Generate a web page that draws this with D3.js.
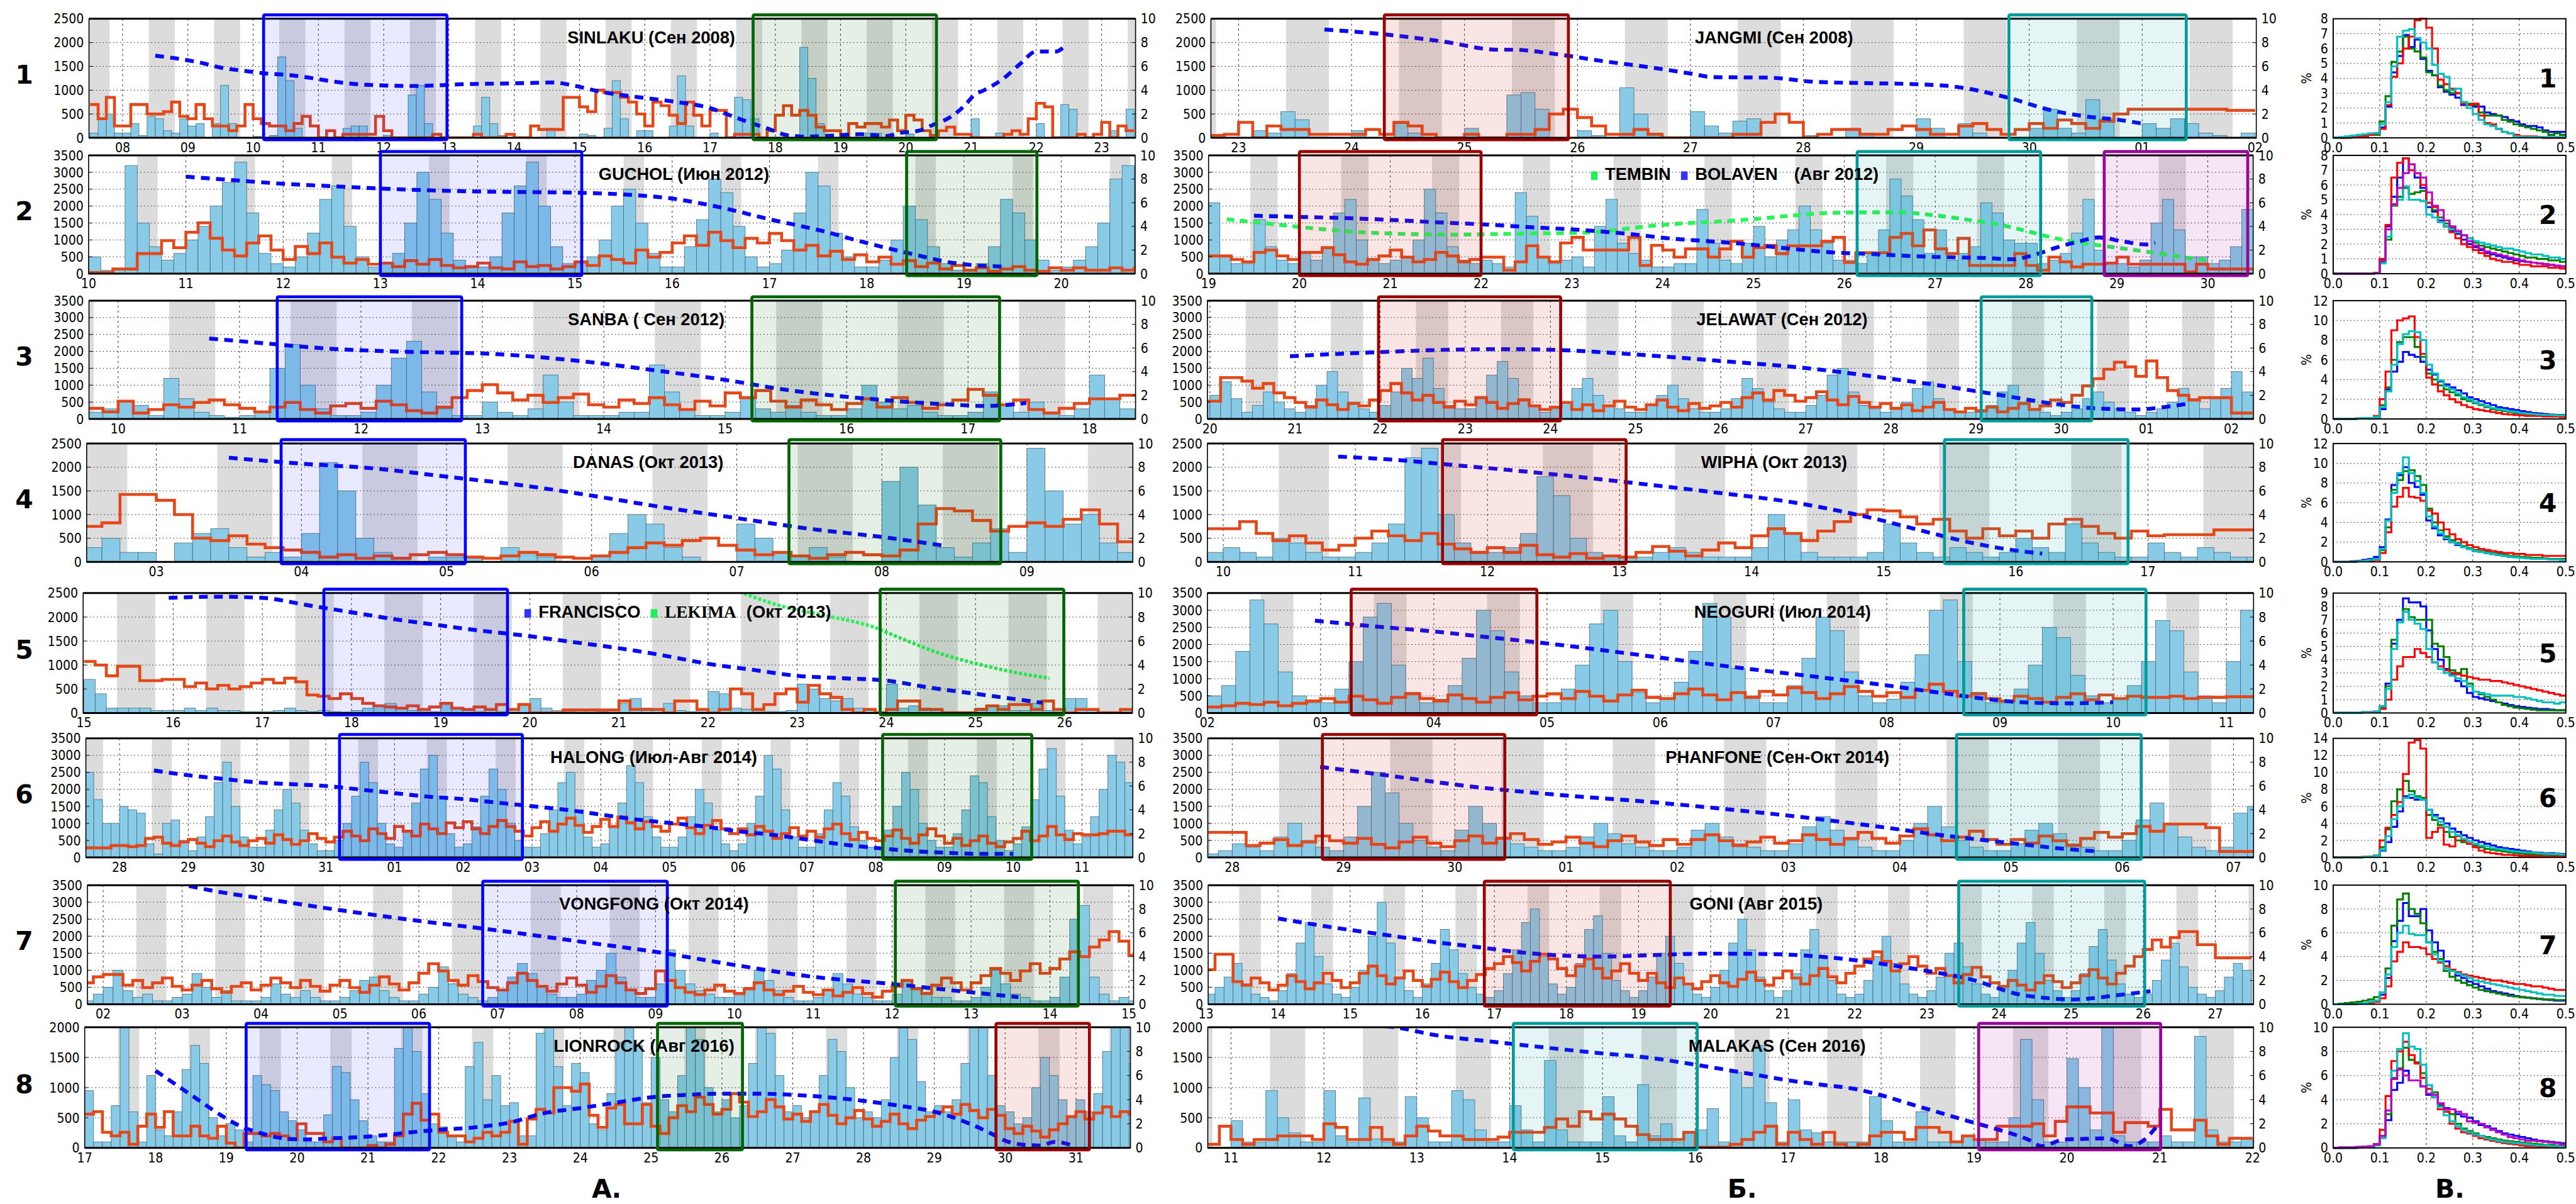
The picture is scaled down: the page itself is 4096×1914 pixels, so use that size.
<!DOCTYPE html>
<html>
<head>
<meta charset="utf-8">
<script src="https://cdn.jsdelivr.net/npm/d3@7"></script>
<style>
  body { margin: 0; background: #fff; }
  text { font-family: 'DejaVu Sans Condensed', 'DejaVu Sans', sans-serif; }
</style>
</head>
<body>
<svg id="fig" width="4096" height="1914"></svg>
<script>
// ---------- tick labels (one per day) ----------
const a1Ticks = ['08','09','10','11','12','13','14','15','16','17','18','19','20','21','22','23'];
const a2Ticks = ['10','11','12','13','14','15','16','17','18','19','20'];
const a3Ticks = ['10','11','12','13','14','15','16','17','18'];
const a4Ticks = ['03','04','05','06','07','08','09'];
const a5Ticks = ['15','16','17','18','19','20','21','22','23','24','25','26'];
const a6Ticks = ['28','29','30','31','01','02','03','04','05','06','07','08','09','10','11'];
const a7Ticks = ['02','03','04','05','06','07','08','09','10','11','12','13','14','15'];
const a8Ticks = ['17','18','19','20','21','22','23','24','25','26','27','28','29','30','31'];
const b1Ticks = ['23','24','25','26','27','28','29','30','01','02'];
const b2Ticks = ['19','20','21','22','23','24','25','26','27','28','29','30'];
const b3Ticks = ['20','21','22','23','24','25','26','27','28','29','30','01','02'];
const b4Ticks = ['10','11','12','13','14','15','16','17'];
const b5Ticks = ['02','03','04','05','06','07','08','09','10','11'];
const b6Ticks = ['28','29','30','01','02','03','04','05','06','07'];
const b7Ticks = ['13','14','15','16','17','18','19','20','21','22','23','24','25','26','27'];
const b8Ticks = ['11','12','13','14','15','16','17','18','19','20','21','22'];

// ---------- 3-hourly bar counts (x100, left axis) ----------
const a1Bars = [1,4,5,1, 1,3,0.5,4.5,4,1.5,1,4, 2.5,3,0,3,11,3,0,0, 0.3,0,0.5,17,12,2,0,0, 0,0,0,2,2.5,2.5,0,0,
  0.5,0,0.2,9,11,3,0,0, 0,0,0,2.5,8.5,3,0.5,0, 0,0,0,0,2,0,0,0, 0.8,0.5,0,2,12,4,0,1.5, 1.5,0,0,2.5,13,2.5,0,0,
  1,0,0,8.5,8,4,0,0, 0,0,0,19,12.5,3,0,0, 0.5,0,0,1,1,0,0,0, 0.8,0,0,0.5,0,0,0,0, 4,0,0,1,0,0,0,0, 3,0,0,7,6,0,0,0, 0,1.5,0,6];
const a2Bars = [5,1,1.5,32,15,8,4,6, 10,14,20,27,33,18,6,3, 2,5,12,22,26,14,5,2, 3,6,15,30,22,12,4,2, 2,5,18,26,33,20,8,3,
  3,5,10,20,25,15,6,2, 2,8,16,28,24,14,5,2, 3,7,18,30,26,12,5,2, 2,4,10,20,16,8,3,1, 1,3,8,22,18,10,4,1, 2,4,8,15,28,32,20];
const a3Bars = [2,3, 5,4,1,12,6,2,1,0.5, 1,2,15,22,10,3,1,1, 2,10,18,23,8,3,1,1, 5,2,1,3,13,5,1,1, 1,2,2,16,8,3,1,1,
  2,6,3,2,4,2,1,1, 3,10,5,3,4,2,1,1, 2,8,4,2,5,2,1,3, 13,6,3,2];
const a4Bars = [3,5,2,2, 0,4,6,7,3,1,2,1, 6,21,15,5,2,1,0,1, 1,1,0,3,2,1,0,0, 1,6,10,8,3,1,0,0, 8,5,2,1,3,1,0,0,
  17,20,12,3,1,4,7,2, 24,15,8,10,4,2];
const a5Bars = [7,4,1,1,1,1,0.5,0.5, 0.5,1,0.5,1,0.5,0.5,0.3,0.3, 0.3,0.5,1,0.5,0.3,0.5,0.3,0.2, 0.5,1,1.5,2,1,0.5,0.3,0.3,
  2,1,0.5,0.3,0.5,0.3,0.3,2, 3,1,0.5,0.3,0.5,0.5,0.3,0.5, 2,3,1,0.5,2,0.5,0.3,0.3, 4.5,4,1,0.8,0.3,0.3,0.3,0.5,
  6,5,3,2.5,3,1,0.5,0.3, 6,1,1.5,1,0.5,0.3,0.3,0.3, 1,1.5,1.5,0.5,0.5,2,0.5,0.3, 3,3,0.5,0.3,0.3,0.3,0.5];
const a6Bars = [25,17,10,10, 15,14,13,4,1,10,11,5, 2,6,12,22,28,15,6,3, 3,8,14,20,16,8,4,2, 2,5,10,18,28,22,10,4,
  3,8,16,26,30,18,7,3, 4,9,18,26,20,10,5,3, 3,7,14,22,25,14,6,3, 4,9,16,27,22,12,6,3, 3,6,12,20,16,8,4,2,
  4,10,18,30,26,14,6,3, 3,7,14,22,18,9,5,3, 3,8,15,25,20,10,5,3, 3,7,14,24,22,12,5,2, 4,9,17,26,32,18,8,4, 6,12,20,30,28,22,24];
const a7Bars = [1,3, 5,10,4,2,3,1,1,2, 3,9,5,2,4,1,1,1, 2,6,3,2,4,2,1,1, 2,4,7,8,4,2,1,1, 3,5,11,6,3,2,1,2,
  4,8,12,9,5,3,2,2, 3,7,10,15,8,4,2,2, 6,16,10,6,4,3,2,2, 3,5,10,7,4,2,1,1, 2,4,9,6,3,2,1,1, 3,7,5,3,2,2,1,1,
  2,5,10,6,3,2,1,1, 2,8,25,29,8,3,1,2, 1];
const a8Bars = [9.5,1,1,7,22,6,1,12, 3,2,6,13,17,14,5,2, 4,3,1,12,10.5,9.5,6,4.5, 3,1,1,5.5,13.5,12.5,8,4.5, 2,1,1,16.5,21,16,9,4,
  3.5,2,1,13.5,17.5,8,12,7, 7.5,2,2,19,20,13.5,7,14, 12.5,4,3,9,17.5,20,17,7.5, 15,8,6,12,20,18,10,6, 8,5,7,14,20,19,12,6,
  7,5,6,12,18,16,10,5, 6,5,8,15,20,18,11,6, 7,6,8,14,20,20,12,7, 6,4,5,10,15,12,8,5, 8,6,9,16,20,20,14];
const b1Bars = [0,0, 0,1.5,1,5.5,3.8,0,0,0, 1.5,0,0,3,1,0,0,0, 2,0,0,9,9.5,6,0,0, 1.5,0.5,0,10.5,5,1,0,0, 5.5,2.5,1,3.5,4,0,0,0,
  0.5,0,0,2,1,0,0,0, 4,2,0,3,1,0,0,0, 2,6,2,1,8,4,0,0, 3,2,4,3,1,0.5,0,1];
const b2Bars = [21,5,3,3,16,8,4,3, 6,4,8,18,22,10,4,3, 4,5,10,25,18,8,4,3, 4,3,2,24,17,5,3,4, 5,2,14,22,9,6,4,2,
  2,3,3,19,9,4,3,9, 14,5,10,13,20,13,9,4, 4,3,6,13,28,23,16,6, 13,4,6,8,21,18,10,9, 9,3,4,6,12,22,7,3, 3,2,4,15,22,13,5,5, 3,4,8,19];
const b3Bars = [5, 7,11,6,2,4,8,5,3, 2,4,10,14,8,5,3,2, 4,8,15,12,18,9,4,3, 3,6,13,17,12,6,4,2, 3,5,9,12,7,4,3,2, 2,4,7,10,6,3,2,2,
  3,6,12,9,5,3,2,2, 4,7,13,15,8,4,3,2, 3,5,9,11,6,3,2,2, 2,4,8,10,5,3,2,1, 2,3,6,8,5,3,2,1, 2,3,5,9,6,3,6,9, 14,8];
const b4Bars = [2, 3,2,1,5,4,2,1,1, 2,4,8,22,24,10,4,2, 2,3,6,18,14,5,2,1, 1,1,2,3,2,1,1,1, 3,10,6,2,1,1,1,2, 8,4,2,1,3,2,1,2,
  5,3,2,8,4,2,1,1, 4,2,1,3,2,1,1];
const b5Bars = [5,8,18,33,26,12,5,3, 3,7,15,28,32,14,6,3, 4,8,16,30,24,12,5,3, 3,7,14,26,30,15,6,3, 4,9,18,32,28,13,5,3,
  3,8,16,28,24,12,5,3, 4,9,17,30,33,15,6,3, 3,7,14,25,22,11,5,3, 4,8,15,27,24,12,5,3, 15,30];
const b6Bars = [1,2, 4,3,2,6,10,5,3,2, 6,15,25,19,10,5,3,2, 8,15,10,6,4,3,2,2, 3,6,10,7,4,3,2,2, 3,8,10,6,4,3,2,2,
  4,9,12,8,5,3,2,2, 5,10,15,9,5,3,2,2, 4,8,10,7,4,3,2,2, 5,11,16,10,6,3,2,3, 13,15];
const b7Bars = [3,5,8,12,6,3,2,1, 4,9,18,24,14,6,3,2, 5,10,20,30,18,8,4,2, 6,12,22,16,9,5,3,2, 4,9,16,24,28,14,6,3,
  5,12,22,26,15,7,4,2, 4,8,15,20,12,6,3,2, 5,10,18,25,16,8,4,2, 4,9,16,22,14,7,3,2, 3,7,14,20,12,6,3,2, 4,8,15,18,11,6,3,2,
  5,10,18,24,15,7,4,2, 4,9,17,22,13,6,3,2, 3,7,13,18,11,5,3,2, 4,8,12,10];
const b8Bars = [0,0, 4.5,1,1,9.5,5,2.5,1,1, 9.5,2,1,8.3,1.5,1,1,8.5, 5,1,1,9.5,8,3,1,1, 7,3,1,14.5,3,1,1,1, 8.5,2,1,10.5,2,4,1,2.5,
  3,6.5,1,12.5,10,17,7.5,1, 8,3,2.5,1,1,1,1,8.5, 4.5,1,1,6,1,1,1,2, 1.5,1,1,5,18,8,1,1, 14.8,10,3,20,2,1,1,1, 2,1,1,18.5,3,1,1,1.5];

// ---------- 3-hourly red step values (right axis) ----------
const a1Red = [2.8,1.6,3.4,1.0, 1.0,2.8,2.8,2.0,2.0,2.2,3.0,1.8, 1.6,2.8,1.6,1.0,1.0,0.6,1.0,2.8, 1.6,1.2,1.0,1.0,0.6,1.2,1.8,1.0,
  0,0.6,0,0.3,0.3,0.3,0.3,1.8, 0.6,0,0,0,0,0,0.3,0, 0,0,0,0.3,0,0,0,0.3, 0,0,1.0,0.7,0.7,0.7,3.4,3.4, 2.6,2.2,4.0,3.8,3.8,3.4,3.0,2.0,
  1.0,3.0,2.7,1.9,1.2,3.0,1.9,1.0, 2.3,2.3,0,0.3,0.3,0.3,0,0.6, 1.9,2.7,1.9,2.3,1.9,0.9,0.6,0.6, 0,1.2,0.9,1.2,1.2,0.9,1.5,0.6,
  1.9,1.5,0.6,0.2,0.6,0.9,0.3,0.3, 0,0,0,0,0.3,0.6,0.3,1.6, 2.9,2.6,0,0,0,0.3,0,0.3, 1.3,0,1.0,0.6];
const a2Red = [0.1,0.1,0.4,0.4,1.7,1.7,2.8,2.2, 3.5,4.3,3.0,2.0,1.5,2.6,3.2,2.0, 1.2,2.3,1.7,2.6,1.4,0.9,1.2,0.8, 0.9,0.6,1.1,0.8,1.2,0.7,0.5,0.6,
  0.9,0.5,0.4,1.0,0.6,0.7,0.4,0.6, 1.0,0.7,1.5,1.2,0.9,2.0,1.4,1.8, 2.6,3.2,2.4,3.5,2.8,2.2,3.0,2.6, 3.4,2.8,2.0,2.4,1.5,1.9,1.2,1.6,
  1.0,1.4,0.8,1.1,0.6,0.9,0.4,0.7, 0.3,0.5,0.2,0.4,0.6,0.3,0.2,0.5, 0.3,0.5,0.3,0.3,0.5,0.3,0.5];
const a3Red = [0.9,0.6, 1.5,0.5,0.8,1.2,1.0,1.4,1.6,1.2, 0.9,0.6,1.0,1.4,0.8,0.5,1.1,1.3, 0.9,1.5,1.2,0.7,0.5,1.0,1.8,2.4,
  2.9,2.2,1.6,2.0,1.4,1.8,2.1,1.2, 1.0,1.6,1.3,1.8,1.2,0.8,1.5,1.1, 2.2,1.8,2.4,1.5,1.0,1.6,1.2,0.8, 1.3,1.7,1.0,1.8,1.4,0.9,1.2,1.6,
  2.5,2.0,1.2,1.6,0.8,0.5,0.9,1.3, 1.7,1.7,2.0,2.0];
const a4Red = [3.0,3.3,5.7,5.7, 5.2,4.0,2.0,1.8,2.2,1.5,1.2,1.0, 0.8,0.4,0.6,0.3,0.5,0.3,0.6,0.8, 0.6,0.4,0.3,0.5,0.8,0.6,0.4,0.3,
  0.5,0.8,1.2,1.6,1.4,1.8,2.0,1.4, 1.0,0.6,0.8,0.5,0.3,0.6,0.8,0.6, 0.5,1.0,3.2,4.5,4.3,3.5,2.6,3.0, 3.3,3.0,3.6,4.4,3.2,1.7];
const a5Red = [4.3,4.0,3.1,3.9,3.9,2.7,2.7,2.8, 2.8,2.2,2.5,2.0,2.3,2.0,2.2,2.5, 2.8,2.5,2.9,2.6,1.5,1.4,1.2,1.6, 1.2,0.8,0.6,0.5,0.4,0.6,0.3,0.5,
  0.8,0.4,0.3,0.5,0.3,0.7,0.3,0.7, 0,0,0,0.25,0.25,0.25,0.25,0.25, 1.0,0.3,0.3,0.3,0,1.0,1.0,0.3, 0,0.3,2.0,1.6,0.3,0.7,1.6,2.0,
  0.9,2.3,1.6,1.3,0.3,0,0.3,0, 0.3,1.0,1.0,0.3,0.3,0,0,0, 0.3,0.6,0.3,0.7,0.7,0.3,1.0,0.3, 0,0.3,0.3,0,0,0.3,0.3];
const a6Red = [0.8,0.8,0.8,1.0, 1.0,0.9,1.0,1.6,1.7,1.2,1.0,1.3, 1.5,1.2,0.9,1.4,1.8,1.3,1.0,1.4, 1.6,1.2,1.9,1.5,1.1,1.4,2.0,1.6,
  1.3,1.7,2.2,1.8,1.4,2.4,2.0,1.6, 2.6,2.2,1.8,2.8,2.4,2.0,2.9,2.5, 3.0,2.4,2.0,2.6,3.1,2.6,2.2,1.8, 2.5,3.0,2.2,2.8,3.3,2.7,2.1,2.6,
  3.2,2.6,3.4,2.9,2.4,3.0,2.6,2.2, 2.8,3.3,2.5,2.0,2.7,3.1,2.4,2.0, 2.4,1.9,2.6,2.2,1.6,2.0,2.5,1.8, 2.2,1.7,2.4,2.8,2.0,1.5,2.1,1.6,
  1.4,1.8,2.3,1.6,1.2,1.9,2.4,1.8, 1.2,1.6,1.0,1.4,1.8,1.2,0.9,1.3, 1.6,2.2,1.4,1.8,2.6,1.9,1.5,2.0, 1.9,1.9,2.0,2.2,2.2,1.9,1.9];
const a7Red = [1.8,2.3, 2.5,2.5,1.6,2.0,1.4,1.8,2.2,1.5, 1.2,1.6,2.0,1.3,1.0,1.5,1.8,1.2, 1.6,2.2,1.8,1.4,2.0,1.5,1.1,1.6,
  2.0,1.4,1.0,1.6,2.3,1.7,1.2,1.8, 2.6,3.4,2.8,2.0,1.6,2.4,1.9,1.4, 1.2,1.8,2.6,2.0,1.5,1.1,1.7,2.2, 1.6,1.0,1.5,2.4,1.8,1.2,0.9,1.3,
  2.8,2.0,1.4,1.0,0.8,1.2,1.6,1.1, 0.9,1.3,1.8,1.2,0.8,1.1,1.5,1.0, 0.8,1.2,0.7,1.0,1.4,0.9,0.6,1.1, 1.5,2.0,1.3,0.9,1.6,2.2,1.8,1.2,
  1.8,2.4,3.0,2.6,2.0,2.8,3.4,2.6, 3.0,3.8,4.4,4.0,4.8,5.4,6.1,5.3, 4.1];
const a8Red = [2.8,3.0,1.3,1.0,1.3,0.3,1.8,2.8, 1.7,3.0,1.0,1.0,1.8,1.0,0.8,1.8, 0.4,0,1.2,1.2,1.0,1.2,1.0,0.7, 2.0,1.2,1.2,0.5,0.8,0,0,0,
  0.2,0,0.3,1.0,2.8,3.7,2.3,2.8, 1.3,1.0,1.0,0.5,0.8,1.3,1.0,1.3, 2.2,0.3,2.4,3.2,2.9,5.0,5.0,4.7, 5.3,2.7,1.7,3.3,3.6,2.0,2.0,3.6,
  1.8,1.2,2.5,3.5,3.0,4.2,3.6,2.8, 3.2,4.5,3.8,2.6,3.0,4.0,3.4,2.4, 2.8,2.2,3.0,3.6,2.7,2.0,2.5,3.1, 2.4,1.8,2.2,2.8,2.0,1.6,2.3,2.6,
  3.0,3.4,2.8,3.6,3.1,2.5,3.2,2.7, 1.6,1.2,1.8,1.4,0.9,1.5,2.0,2.6, 3.0,2.4,2.9,3.4,2.6,3.0,2.8];
const b1Red = [0.2,0.3, 1.3,0,1.0,0.7,0.7,0.3,0.3,0.3, 0.3,0.7,0.3,1.3,1.0,0.3,0,0, 0.3,0,0,0.3,0.3,0.7,2.0,2.4, 1.7,1.0,0.3,0.3,0.7,0.3,0,0,
  0,0,0,0.3,0.3,1.3,2.0,1.3, 0,0.3,0.7,0.7,0.3,0.3,0.7,1.0, 0.7,0.3,0.3,1.0,1.2,0.7,0.3,0.7, 1.2,0.8,1.5,1.2,0.8,1.4,2.0,2.4,
  2.4,2.4,2.4,2.4,2.4,2.4,2.3,2.3];
const b2Red = [1.5,1.5,1.2,1.0,1.8,2.0,1.5,1.2, 1.8,1.8,2.2,1.6,1.0,0.8,1.2,1.5, 2.0,1.4,1.0,1.2,1.8,1.5,1.0,1.2,
  1.4,1.4,0.3,1.0,2.36,1.4,1.0,2.6, 3.07,2.0,2.0,2.0,2.0,3.07,0.7,2.4, 2.0,1.4,2.1,2.1,1.4,2.1,2.74,1.4, 2.2,2.4,1.7,2.36,2.36,2.36,2.74,3.07,
  0.95,1.77,1.77,1.77,3.07,3.4,2.36,3.7, 2.1,1.7,3.0,0.7,0.7,0.7,0.7,1.7, 0.7,0.3,1.4,1.0,0.57,0.8,0.8,0.9, 1.4,0.8,0.8,0.8,0.8,0.8,0.15,0.8,
  0.4,0.4,0.4,0.4];
const b3Red = [1.5, 1.5,3.5,3.5,3.2,2.6,3.0,2.2,1.8, 1.4,1.0,1.6,1.2,0.8,1.3,1.1,1.6, 2.4,3.0,2.2,1.6,2.0,1.4,1.0,1.5, 1.2,1.8,1.4,0.9,1.3,1.6,1.1,0.8,
  1.0,1.4,0.8,1.2,0.7,1.1,1.5,1.0, 0.8,1.2,1.6,1.0,0.7,1.3,0.9,1.1, 1.4,1.0,1.8,2.2,1.6,2.4,2.0,1.5, 1.8,2.3,1.6,1.2,1.9,1.4,1.0,1.3,
  0.9,1.2,0.7,1.0,1.4,0.8,0.6,0.9, 0.7,1.0,0.6,0.9,1.3,0.8,1.1,1.6, 1.4,2.0,2.8,3.4,4.2,4.8,4.4,3.6, 4.9,3.5,2.4,2.0,1.6,1.8,1.8,1.8, 0.5,0.5];
const b4Red = [2.8, 2.8,3.4,2.4,1.8,2.2,1.6,1.0,1.4, 2.0,2.6,2.2,1.8,2.4,1.5,1.1,0.8, 1.2,0.8,1.4,0.6,0.4,0.7,0.3,0.5, 0.4,0.8,1.3,0.9,0.5,1.0,1.6,1.2,
  2.2,2.8,2.4,1.8,2.6,3.4,4.0,4.4, 4.3,3.8,3.2,3.6,2.6,2.0,2.8,2.2, 2.6,2.0,3.2,3.6,3.0,2.4,2.0,2.6, 2.2,2.3,2.3,2.3,2.7,2.7,2.7];
const b5Red = [0.5,0.6,0.8,0.7,0.9,0.6,0.8,1.0, 1.2,0.9,1.4,1.1,0.8,1.3,1.6,1.2, 1.0,1.5,1.2,0.9,1.3,1.7,1.1,1.4, 1.6,1.2,1.8,1.4,1.0,1.5,1.9,1.3,
  1.2,1.6,2.0,1.5,1.1,1.7,1.3,1.8, 1.5,2.1,1.7,1.2,1.6,2.2,1.8,1.4, 1.7,1.3,1.9,2.4,1.8,1.4,1.6,1.2, 1.0,1.4,1.2,0.9,1.3,1.6,1.1,1.5,
  1.2,1.4,1.3,1.3,1.4,1.2,1.3,1.3, 1.35,1.35];
const b6Red = [2.1,2.1, 2.1,1.0,1.2,1.5,1.0,1.3,1.8,1.4, 1.2,1.6,1.1,0.8,1.3,1.7,1.2,0.9, 1.4,1.8,1.2,1.6,2.0,1.5,1.1,1.3, 1.7,1.2,0.9,1.4,1.8,1.3,1.0,1.5,
  1.1,1.5,1.9,1.4,1.0,1.3,1.7,1.2, 1.4,1.9,1.5,1.1,1.6,2.1,1.6,1.2, 1.8,2.4,1.9,1.4,1.7,2.2,1.5,1.1, 1.5,1.2,1.8,1.4,1.0,1.6,2.1,1.7,
  2.0,2.6,2.2,2.8,2.8,2.8,2.5,0.5, 0.5,0.5];
const b7Red = [2.9,4.2,4.2,1.9,1.6,2.2,1.8,1.2, 1.6,2.4,1.9,1.3,1.8,2.6,2.0,1.4, 1.8,2.6,3.2,2.4,1.7,2.2,2.8,2.0, 1.5,2.1,2.7,1.9,1.4,2.0,2.5,3.0,
  3.4,4.0,3.5,2.8,3.6,4.2,3.8,3.0, 2.4,3.2,3.8,3.0,2.2,2.8,3.4,2.6, 2.0,2.6,1.8,1.4,2.2,1.7,1.3,1.9, 2.4,1.8,1.5,2.1,2.7,2.0,1.6,2.2,
  2.8,2.2,1.7,2.4,3.0,2.3,1.8,2.6, 3.2,3.8,4.4,3.6,2.8,3.4,4.0,3.2, 2.6,3.0,2.4,1.8,2.5,3.1,2.3,1.8, 1.5,2.0,1.6,1.2,1.8,2.4,1.9,1.4,
  1.8,2.4,2.9,2.2,1.7,2.6,3.2,4.0, 4.6,5.4,4.8,5.6,6.1,6.1,5.0,5.0, 3.9,3.9,3.9,3.9];
const b8Red = [0.3,1.8, 0.7,0.3,0.7,0.7,1.0,1.0,1.0,0.7, 2.0,1.7,0.7,0.7,1.7,0.7,0.3,1.0, 1.8,1.4,1.0,1.0,0.7,0.7,0.7,0.9,
  1.3,1.3,1.3,1.7,2.4,1.8,3.0,2.4, 2.8,2.4,1.8,1.1,0.7,0.7,0.7,1.3, 0.05,0.05,0.05,0.3,0.7,1.3,1.8,0.3, 1.3,0.7,0.3,1.3,0.3,0,0.3,1.0,
  1.3,1.3,0.7,1.7,1.7,1.3,0.5,1.0, 0.7,0.7,1.8,1.8,1.8,2.0,1.0,2.2, 3.4,3.4,2.9,2.9,1.3,2.1,2.1,1.8, 3.2,1.5,1.5,2.3,1.0,0.3,0.8,0.8];

// ---------- storm tracks [day index, right-axis value] ----------
const a1Track = [[0.5,6.9],[0.9,6.6],[1.2,6.3],[1.5,5.9],[1.9,5.6],[2.2,5.4],[2.5,5.3],[2.8,5.1],[3.2,4.75],[3.6,4.5],[4.0,4.4],[4.4,4.35],
  [4.8,4.4],[5.2,4.5],[5.7,4.55],[6.2,4.6],[6.6,4.65],[6.9,4.4],[7.3,3.9],[7.7,3.55],[8.0,3.35],[8.5,3.0],[9.0,2.5],[9.3,1.9],[9.6,1.3],
  [9.9,0.75],[10.2,0.2],[10.5,0.1],[10.9,0.2],[11.3,0.3],[11.7,0.15],[11.9,0.4],[12.2,0.6],[12.4,1.05],[12.7,1.8],[12.9,2.7],[13.05,3.6],
  [13.2,4.0],[13.5,5.0],[13.75,6.2],[14.0,7.25],[14.3,7.25],[14.45,7.8]];
const a2Track = [[1.0,8.2],[1.5,7.9],[2.0,7.6],[2.5,7.4],[3.0,7.2],[3.5,7.05],[4.0,6.95],[4.5,6.9],[5.0,6.85],[5.5,6.7],[6.0,6.35],
  [6.5,5.6],[7.0,4.6],[7.5,3.7],[8.0,2.6],[8.5,1.6],[8.9,0.9],[9.4,0.6]];
const a3Track = [[0.75,6.8],[1.2,6.4],[1.72,5.95],[2.3,5.7],[3.08,5.5],[3.8,4.9],[4.43,4.1],[5.0,3.3],[5.51,2.45],[6.3,1.6],[6.8,1.25],[7.14,1.1],[7.48,1.35]];
const a4Track = [[0.5,8.8],[1.0,8.3],[1.5,7.9],[2.0,7.2],[2.5,6.5],[3.0,5.6],[3.5,4.6],[4.0,3.7],[4.5,2.8],[5.0,2.1],[5.44,1.35]];
const a5Track = [[0.95,9.6],[1.5,9.7],[2.0,9.6],[2.5,9.0],[3.0,8.4],[3.5,7.8],[4.0,7.3],[4.3,7.0],[5.0,6.4],[5.5,5.9],[6.0,5.4],[6.5,4.8],
  [7.0,4.1],[7.5,3.6],[8.0,3.1],[8.5,2.9],[9.0,2.7],[9.5,2.1],[10.0,1.6],[10.4,1.2],[10.75,0.85]];
const a5Track2 = [[7.3,10.3],[7.43,9.9],[7.83,8.9],[8.33,8.1],[8.84,7.2],[9.14,6.3],[9.59,5.0],[10.1,3.95],[10.5,3.3],[10.83,2.9]];
const a6Track = [[0.5,7.3],[1.0,6.9],[1.5,6.6],[2.0,6.3],[2.5,6.15],[3.0,6.0],[3.5,5.7],[4.0,5.4],[4.5,5.1],[5.0,4.9],[5.5,4.6],[6.0,4.3],
  [6.5,4.0],[7.0,3.6],[7.5,3.2],[8.0,2.9],[8.5,2.6],[9.0,2.2],[9.5,1.9],[10.0,1.5],[10.5,1.1],[11.0,0.8],[11.5,0.55],[12.0,0.4],[12.5,0.3],[13.0,0.3]];
const a7Track = [[0.9,10.2],[1.5,9.4],[2.0,8.9],[3.0,7.9],[4.0,7.0],[5.0,6.2],[6.0,5.3],[7.0,4.4],[8.0,3.3],[9.0,2.3],[10.0,1.7],[11.0,1.0],[11.6,0.6]];
const a8Track = [[1.0,6.4],[1.3,5.2],[1.6,4.0],[1.9,2.8],[2.2,1.8],[2.5,1.2],[2.8,0.8],[3.1,0.7],[3.5,0.8],[3.9,0.9],[4.3,1.1],[4.7,1.35],
  [5.0,1.5],[5.5,1.7],[6.0,2.1],[6.5,2.9],[7.0,3.3],[7.5,3.75],[8.0,4.2],[8.5,4.4],[9.0,4.5],[9.5,4.5],[10.0,4.4],[10.5,4.2],[11.0,3.9],
  [11.5,3.5],[12.0,3.0],[12.5,2.0],[12.8,1.2],[13.0,0.6],[13.2,0.3],[13.5,0.2],[13.7,0.5],[14.0,0.1]];
const b1Track = [[0.76,9.1],[1.28,8.7],[1.8,8.1],[2.3,7.4],[2.43,7.4],[2.83,7.0],[3.22,6.45],[3.62,5.95],[4.0,5.4],[4.2,5.1],[4.7,5.05],
  [5.1,4.7],[5.5,4.6],[6.0,4.5],[6.34,4.3],[6.8,3.4],[7.2,2.3],[7.5,1.8],[7.8,1.5],[8.0,1.2]];
const b2Track = [[0.5,4.9],[1.0,4.8],[1.5,4.7],[2.0,4.55],[2.5,4.35],[3.07,4.15],[3.54,3.93],[4.06,3.72],[4.59,3.39],[5.11,2.96],[5.52,2.74],
  [5.89,2.52],[6.36,2.15],[6.83,1.82],[7.29,1.66],[7.71,1.5],[8.13,1.39],[8.55,1.33],[8.86,1.22],[9.07,1.55],[9.33,2.2],[9.59,2.74],
  [9.8,3.07],[10.06,2.74],[10.32,2.47],[10.42,2.63]];
const b2Track2 = [[0.2,4.6],[0.7,4.2],[1.2,3.8],[1.7,3.5],[2.2,3.35],[2.7,3.3],[3.07,3.34],[3.54,3.4],[4.06,3.45],[4.38,3.6],[4.74,3.93],
  [5.11,4.2],[5.52,4.37],[5.94,4.58],[6.41,4.9],[6.77,5.12],[7.19,5.18],[7.61,5.18],[7.97,4.96],[8.34,4.58],[8.7,4.15],[9.01,3.6],
  [9.28,3.07],[9.59,2.63],[9.9,2.3],[10.32,1.87],[10.73,1.39],[11.05,1.06]];
const b3Track = [[0.94,5.3],[1.5,5.5],[2.0,5.65],[2.8,5.85],[3.5,5.9],[4.0,5.85],[5.1,5.4],[6.0,4.9],[7.0,4.3],[8.0,3.4],[8.6,2.8],
  [9.3,2.0],[9.9,1.3],[10.4,0.9],[10.9,0.8],[11.2,1.0],[11.5,1.3]];
const b4Track = [[0.87,8.9],[1.2,8.7],[1.83,8.1],[2.5,7.4],[3.08,6.7],[3.7,5.9],[4.33,5.0],[4.95,3.6],[5.3,2.6],[5.67,1.6],[6.04,0.9],[6.2,0.7]];
const b5Track = [[0.95,7.7],[1.5,7.2],[2.0,6.8],[2.4,6.4],[3.0,5.8],[3.85,4.8],[4.5,4.0],[5.3,3.1],[6.0,2.3],[6.46,1.7],[7.18,0.9],[7.6,0.8],[8.0,0.9]];
const b6Track = [[0.79,7.6],[1.3,7.0],[2.2,5.9],[3.0,5.2],[3.7,4.7],[4.5,4.0],[5.2,3.3],[5.8,2.6],[6.35,1.9],[7.1,1.1],[7.5,0.7],[7.8,0.5]];
const b7Track = [[1.0,7.2],[1.6,6.6],[2.63,5.7],[3.2,5.2],[3.77,4.8],[4.3,4.4],[4.9,4.1],[5.5,4.0],[6.06,4.1],[7.0,4.25],[7.9,4.2],
  [8.7,3.9],[9.48,3.3],[10.0,2.8],[10.6,2.1],[11.3,0.8],[11.7,0.5],[12.0,0.4],[12.7,0.8],[13.1,1.1]];
const b8Track = [[1.66,10.1],[1.77,10.0],[2.2,9.35],[2.82,8.8],[3.29,8.4],[3.91,7.9],[4.53,7.45],[5.0,6.9],[5.62,6.1],[6.09,5.5],[6.4,5.2],
  [6.71,4.9],[6.94,4.5],[7.33,3.6],[7.64,2.9],[7.95,2.2],[8.27,1.5],[8.58,0.7],[8.73,0.15],[8.97,0.7],[9.2,0.75],[9.43,0.8],[9.67,0.15],
  [9.82,0.6],[9.98,1.9]];

// ---------- highlighted intervals [from, to, colour key] ----------
const a1Boxes = [[2.16,4.97,'blue'],[9.66,12.47,'green']];
const a2Boxes = [[3.0,5.07,'blue'],[8.41,9.75,'green']];
const a3Boxes = [[1.31,2.83,'blue'],[5.22,7.26,'green']];
const a4Boxes = [[0.86,2.13,'blue'],[4.36,5.82,'green']];
const a5Boxes = [[2.69,4.75,'blue'],[8.93,10.99,'green']];
const a6Boxes = [[3.2,5.86,'blue'],[11.1,13.27,'green']];
const a7Boxes = [[4.81,7.15,'blue'],[10.04,12.36,'green']];
const a8Boxes = [[2.28,4.87,'blue'],[8.09,9.29,'green'],[12.87,14.19,'red']];
const b1Boxes = [[1.29,2.92,'red'],[6.82,8.39,'teal']];
const b2Boxes = [[1.0,3.0,'red'],[7.14,9.16,'teal'],[9.86,11.44,'purple']];
const b3Boxes = [[1.98,4.12,'red'],[9.06,10.36,'teal']];
const b4Boxes = [[1.66,3.05,'red'],[5.46,6.85,'teal']];
const b5Boxes = [[1.27,2.91,'red'],[6.68,8.29,'teal']];
const b6Boxes = [[0.81,2.45,'red'],[6.51,8.17,'teal']];
const b7Boxes = [[3.86,6.44,'red'],[10.44,13.02,'teal']];
const b8Boxes = [[3.04,5.02,'teal'],[8.05,10.01,'purple']];

// ---------- histograms, 0.0125 bins from 0 to 0.5 (%) ----------
const h1Blue = [0,0,0.05,0.1,0.1,0.15,0.2,0.3,0.7,2.1,4.4,5.5,6.9,6.1,6.6,5.3,4.5,4.2,3.4,3.1,2.9,2.7,2.2,2.2,2.1,2.1,1.7,1.6,1.5,1.4,1.2,1.1,0.9,0.8,0.8,0.7,0.5,0.4,0.4,0.4];
const h1Green = [0,0,0.05,0.1,0.1,0.15,0.2,0.2,1.1,2.8,5.1,5.8,6.8,6.0,5.8,5.4,4.4,4.2,3.5,3.2,3.0,3.0,2.4,2.3,2.2,1.7,1.5,1.5,1.5,1.2,1.1,0.9,0.8,0.7,0.6,0.5,0.4,0.2,0.3,0.2];
const h1Red = [0,0,0,0.05,0.1,0.1,0.2,0.3,0.6,2.2,4.1,5.0,6.0,6.8,7.9,8.0,7.4,6.0,3.9,3.6,3.3,3.0,2.3,2.2,2.3,1.5,1.0,0.9,0.6,0.4,0.3,0.2,0.1,0.1,0.1,0.05,0,0,0,0];
const h1Cyan = [0,0.05,0.1,0.15,0.2,0.25,0.3,0.3,0.9,2.4,4.8,6.8,7.2,7.3,6.7,6.4,6.0,4.9,4.3,4.1,3.2,3.3,2.4,2.0,1.6,1.2,0.9,0.8,0.6,0.4,0.3,0.1,0.05,0.05,0.05,0.05,0.05,0.05,0.05,0.05];
const h2Blue = [0,0,0,0,0,0,0,0.05,0.8,3.2,5.2,6.5,7.8,7.0,6.5,5.8,4.5,4.2,3.6,3.2,2.9,2.7,2.3,2.0,1.8,1.6,1.4,1.3,1.2,1.1,1.0,0.9,0.85,0.8,0.75,0.7,0.65,0.6,0.55,0.5];
const h2Green = [0,0,0,0,0,0,0,0.05,0.8,2.3,4.6,5.2,5.8,5.4,5.5,5.6,4.8,4.3,3.8,3.4,3.1,2.8,2.6,2.4,2.1,1.9,1.8,1.7,1.6,1.5,1.4,1.3,1.2,1.1,1.1,1.0,1.0,0.9,0.9,0.8];
const h2Red = [0,0,0,0,0,0,0,0.05,1.0,3.3,6.5,7.5,7.8,7.0,6.8,6.0,4.8,4.5,3.5,3.2,2.8,2.4,2.0,1.8,1.6,1.4,1.2,1.0,0.9,0.8,0.8,0.7,0.6,0.6,0.5,0.5,0.5,0.4,0.4,0.35];
const h2Cyan = [0,0,0,0,0,0,0,0.05,0.7,2.5,4.7,5.0,5.9,5.0,5.0,4.9,4.0,3.8,3.5,3.2,3.0,2.8,2.6,2.4,2.2,2.1,2.0,1.9,1.8,1.7,1.7,1.6,1.5,1.4,1.3,1.3,1.2,1.1,1.1,1.0];
const h2Magenta = [0,0,0,0,0,0,0,0.05,0.9,3.0,4.7,5.8,6.8,7.4,6.8,6.5,5.5,4.6,4.3,3.6,3.2,2.9,2.6,2.2,1.9,1.7,1.5,1.4,1.3,1.2,1.1,1.0,0.9,0.8,0.75,0.7,0.65,0.6,0.55,0.5];
const h3Blue = [0,0,0,0,0.05,0.1,0.1,0.2,1.0,3.0,4.8,5.8,6.8,6.5,6.3,5.8,5.0,4.5,3.8,3.5,3.2,2.9,2.6,2.2,2.0,1.8,1.6,1.4,1.2,1.1,1.0,0.9,0.8,0.7,0.6,0.55,0.5,0.45,0.4,0.4];
const h3Green = [0,0,0,0,0.05,0.1,0.1,0.2,1.4,3.2,6.0,7.8,8.3,8.3,7.3,6.3,4.6,4.0,3.4,3.0,2.7,2.4,2.0,1.8,1.6,1.4,1.2,1.0,0.9,0.8,0.7,0.6,0.55,0.5,0.5,0.45,0.4,0.4,0.4,0.4];
const h3Red = [0,0,0,0,0.05,0.1,0.1,0.3,2.0,4.8,9.0,10.0,10.2,10.4,8.3,6.6,4.2,3.5,2.8,2.4,2.0,1.7,1.4,1.2,1.0,0.9,0.8,0.7,0.6,0.5,0.45,0.4,0.35,0.3,0.3,0.3,0.25,0.25,0.25,0.2];
const h3Cyan = [0,0,0,0,0.05,0.1,0.1,0.2,1.2,2.8,5.5,7.6,8.6,8.9,8.8,8.0,5.5,4.6,3.9,3.3,3.0,2.6,2.2,2.0,1.7,1.5,1.3,1.1,1.0,0.9,0.8,0.7,0.6,0.55,0.5,0.45,0.4,0.4,0.35,0.35];
const h4Blue = [0,0,0,0.05,0.1,0.2,0.3,0.5,1.5,4.3,7.8,8.8,9.6,8.0,7.6,6.8,4.2,3.4,2.7,2.3,2.0,1.7,1.5,1.3,1.1,1.0,0.9,0.8,0.7,0.6,0.55,0.5,0.45,0.4,0.35,0.3,0.3,0.25,0.25,0.2];
const h4Green = [0,0,0,0,0.05,0.1,0.2,0.3,1.2,3.5,7.3,8.3,9.2,9.3,8.7,7.8,5.4,4.0,3.2,2.6,2.2,1.9,1.6,1.4,1.2,1.1,1.0,0.9,0.8,0.7,0.6,0.55,0.5,0.45,0.4,0.4,0.35,0.3,0.3,0.3];
const h4Red = [0,0,0,0,0.05,0.1,0.1,0.2,0.9,3.0,5.6,6.6,7.5,6.6,6.5,6.2,5.2,4.9,4.0,3.3,2.8,2.3,2.0,1.7,1.5,1.3,1.2,1.1,1.0,0.9,0.9,0.8,0.8,0.7,0.7,0.7,0.6,0.6,0.6,0.6];
const h4Cyan = [0,0,0,0,0.05,0.1,0.2,0.3,1.3,4.2,7.0,9.0,10.6,9.0,8.2,7.0,4.6,3.6,2.9,2.4,2.0,1.8,1.5,1.3,1.1,1.0,0.9,0.8,0.7,0.6,0.5,0.45,0.4,0.35,0.3,0.3,0.3,0.25,0.25,0.2];
const h5Blue = [0,0,0,0,0,0.05,0.05,0.1,0.5,2.2,5.2,7.0,8.6,8.3,8.3,8.0,6.2,4.8,4.0,3.3,2.9,2.4,2.0,1.5,1.2,1.1,1.0,0.9,0.8,0.7,0.6,0.5,0.45,0.4,0.35,0.3,0.3,0.25,0.2,0.2];
const h5Green = [0,0,0,0,0,0.05,0.05,0.1,0.4,2.0,5.5,6.8,7.8,7.2,7.0,7.0,7.0,5.2,5.0,4.2,3.2,3.0,3.3,2.2,1.6,1.4,1.2,1.0,0.8,0.6,0.5,0.4,0.35,0.3,0.25,0.2,0.2,0.2,0.2,0.2];
const h5Red = [0,0,0,0,0,0.05,0.05,0.1,0.3,1.0,2.5,3.5,4.2,4.2,4.8,4.5,4.2,3.8,3.5,3.2,3.0,2.9,2.8,2.7,2.6,2.5,2.5,2.4,2.4,2.3,2.2,2.1,2.0,1.9,1.8,1.7,1.6,1.5,1.4,1.3];
const h5Cyan = [0,0,0,0,0,0.05,0.05,0.1,0.5,1.8,4.8,6.8,7.6,7.0,6.7,6.3,4.8,3.8,3.3,3.0,2.8,2.6,2.4,2.0,1.6,1.5,1.4,1.3,1.3,1.3,1.3,1.2,1.2,1.1,1.0,0.9,0.8,0.8,0.7,0.8];
const h6Blue = [0,0,0,0,0,0.05,0.1,0.2,0.8,1.8,3.6,5.4,7.2,7.0,6.8,6.8,5.6,5.0,4.6,4.0,3.4,3.0,2.6,2.3,2.0,1.8,1.6,1.4,1.2,1.1,1.0,0.9,0.8,0.7,0.6,0.55,0.5,0.5,0.45,0.4];
const h6Green = [0,0,0,0,0,0.05,0.1,0.2,1.2,3.3,6.6,8.0,9.0,7.8,7.2,7.0,5.0,4.4,3.8,3.0,2.4,2.0,1.8,1.6,1.4,1.2,1.0,0.9,0.8,0.7,0.6,0.5,0.45,0.4,0.35,0.3,0.3,0.25,0.25,0.2];
const h6Red = [0,0,0,0,0,0.05,0.1,0.2,2.0,3.5,5.0,6.5,9.8,13.5,13.8,12.8,2.3,3.0,3.5,1.5,1.3,2.5,2.0,1.6,1.2,0.8,0.6,0.5,0.4,0.3,0.3,0.25,0.2,0.2,0.15,0.15,0.1,0.1,0.1,0.1];
const h6Cyan = [0,0,0,0,0,0.05,0.1,0.2,0.9,2.5,4.5,6.0,7.0,7.4,7.0,6.8,5.6,4.8,4.2,3.6,3.0,2.6,2.2,1.9,1.6,1.4,1.3,1.1,1.0,0.9,0.8,0.7,0.65,0.6,0.55,0.5,0.45,0.4,0.4,0.35];
const h7Blue = [0,0,0,0,0.05,0.1,0.2,0.3,0.8,2.2,5.3,7.0,8.5,7.4,7.4,8.0,6.2,5.2,4.5,3.6,2.8,2.4,2.2,1.9,1.7,1.5,1.3,1.1,1.0,0.9,0.8,0.7,0.6,0.55,0.5,0.45,0.4,0.35,0.3,0.3];
const h7Green = [0,0.05,0.1,0.15,0.2,0.3,0.4,0.6,1.0,3.0,6.6,8.8,9.3,8.0,7.6,6.8,5.2,4.4,3.8,2.8,2.3,2.0,1.8,1.6,1.4,1.2,1.1,1.0,0.9,0.8,0.7,0.65,0.6,0.55,0.5,0.45,0.4,0.4,0.35,0.35];
const h7Red = [0,0,0,0,0.05,0.1,0.1,0.2,0.5,1.5,3.6,4.4,5.2,4.8,4.8,4.7,4.2,3.8,3.5,3.2,2.9,2.7,2.5,2.4,2.3,2.2,2.1,2.0,2.0,1.9,1.8,1.7,1.7,1.6,1.5,1.5,1.4,1.3,1.2,1.2];
const h7Cyan = [0,0,0,0,0.05,0.1,0.2,0.3,1.0,2.5,4.8,6.0,6.6,5.9,5.8,5.8,5.2,4.2,3.6,3.0,2.8,2.6,2.4,2.2,2.0,1.9,1.8,1.7,1.6,1.5,1.4,1.3,1.2,1.1,1.0,0.9,0.8,0.8,0.7,0.7];
const h8Blue = [0,0,0,0,0.05,0.1,0.1,0.3,1.0,2.3,4.8,5.4,6.4,5.6,5.6,5.1,4.4,4.2,3.5,3.3,3.2,2.8,2.6,2.5,2.2,1.9,1.8,1.6,1.4,1.2,1.1,1.0,0.9,0.8,0.7,0.6,0.55,0.5,0.45,0.4];
const h8Green = [0,0,0,0,0.05,0.1,0.1,0.3,1.0,2.8,5.8,6.6,8.3,7.3,7.1,6.2,4.5,4.6,3.6,3.0,2.8,2.0,1.6,1.4,1.2,1.0,0.9,0.8,0.7,0.6,0.55,0.5,0.45,0.4,0.35,0.3,0.25,0.25,0.2,0.2];
const h8Red = [0,0,0,0,0.05,0.1,0.1,0.3,1.5,4.3,7.2,8.0,8.8,7.7,7.0,5.8,4.9,4.2,3.2,3.0,2.0,1.6,1.3,1.2,1.0,0.8,0.7,0.6,0.5,0.4,0.35,0.3,0.2,0.15,0.15,0.1,0.1,0.1,0.1,0.1];
const h8Cyan = [0,0,0,0,0.05,0.1,0.1,0.2,0.8,3.1,6.4,8.2,9.5,8.4,8.2,6.9,5.2,4.2,3.4,2.7,2.2,1.8,1.5,1.3,1.1,1.0,0.8,0.7,0.6,0.5,0.45,0.4,0.35,0.3,0.25,0.2,0.2,0.15,0.15,0.1];
const h8Magenta = [0,0.05,0.05,0.05,0.1,0.1,0.15,0.3,1.0,3.1,5.7,6.5,6.0,5.6,5.6,5.1,4.5,4.4,3.7,3.2,3.2,3.0,2.8,2.2,2.1,2.0,1.7,1.5,1.3,1.1,0.9,0.8,0.7,0.6,0.6,0.55,0.5,0.45,0.4,0.3];

// ---------- layout (reference pixels) ----------
const K = 4096 / 6599;
const px = v => v * K;
const rowTop = [48, 398, 770, 1136, 1519, 1891, 2267, 2631];
const rowBottom = [353, 701, 1073, 1439, 1826, 2196, 2572, 2940];
const aLeft = [228, 227, 228, 222, 213, 220, 224, 217];
const aRight = [2909, 2908, 2909, 2902, 2901, 2902, 2904, 2896];
const bLeft = [3102, 3096, 3093, 3093, 3093, 3094, 3095, 3094];
const bRight = [5780, 5772, 5773, 5773, 5773, 5773, 5773, 5773];
const cLeft = 5977, cRight = 6573;

const panels = [
  {col:0,row:0,ticks:a1Ticks,dom:[-0.515,15.52],lmax:2500,t0:-0.5,bars:a1Bars,red:a1Red,track:a1Track,boxes:a1Boxes,title:'SINLAKU (Сен 2008)',tx:8.1,night:[0.40,0.80]},
  {col:0,row:1,ticks:a2Ticks,dom:[0,10.76],lmax:3500,t0:0,bars:a2Bars,red:a2Red,track:a2Track,boxes:a2Boxes,title:'GUCHOL (Июн 2012)',tx:6.12,night:[0.50,0.71]},
  {col:0,row:2,ticks:a3Ticks,dom:[-0.24,8.38],lmax:3500,t0:-0.25,bars:a3Bars,red:a3Red,track:a3Track,boxes:a3Boxes,title:'SANBA ( Сен 2012)',tx:4.35,night:[0.42,0.80]},
  {col:0,row:3,ticks:a4Ticks,dom:[-0.48,6.73],lmax:2500,t0:-0.5,bars:a4Bars,red:a4Red,track:a4Track,boxes:a4Boxes,title:'DANAS (Окт 2013)',tx:3.39,night:[0.42,0.80]},
  {col:0,row:4,ticks:a5Ticks,dom:[-0.01,11.76],lmax:2500,t0:0,bars:a5Bars,red:a5Red,track:a5Track,track2:a5Track2,fine:true,boxes:a5Boxes,
    legend:[{sq:'#3333ff'},{t:'FRANCISCO'},{sq:'#22ee55'},{t:'LEKIMA',serif:true},{t:'(Окт 2013)'}],tx:4.94,night:[0.37,0.80]},
  {col:0,row:5,ticks:a6Ticks,dom:[-0.49,14.74],lmax:3500,t0:-0.5,bars:a6Bars,red:a6Red,track:a6Track,boxes:a6Boxes,title:'HALONG (Июл-Авг 2014)',tx:7.77,night:[0.47,0.76]},
  {col:0,row:6,ticks:a7Ticks,dom:[-0.2,13.06],lmax:3500,t0:-0.25,bars:a7Bars,red:a7Red,track:a7Track,boxes:a7Boxes,title:'VONGFONG (Окт 2014)',tx:6.98,night:[0.42,0.80]},
  {col:0,row:7,ticks:a8Ticks,dom:[0,14.77],lmax:2000,t0:0,bars:a8Bars,red:a8Red,track:a8Track,boxes:a8Boxes,title:'LIONROCK (Авг 2016)',tx:7.9,night:[0.47,0.77]},
  {col:1,row:0,ticks:b1Ticks,dom:[-0.245,9.01],lmax:2500,t0:-0.25,bars:b1Bars,red:b1Red,track:b1Track,boxes:b1Boxes,title:'JANGMI (Сен 2008)',tx:4.74,night:[0.42,0.80]},
  {col:1,row:1,ticks:b2Ticks,dom:[0,11.5],lmax:3500,t0:0,bars:b2Bars,red:b2Red,track:b2Track,track2:b2Track2,boxes:b2Boxes,
    legend:[{sq:'#22ee55'},{t:'TEMBIN'},{sq:'#3333ff'},{t:'BOLAVEN',gap:42},{t:'(Авг 2012)'}],tx:4.21,night:[0.46,0.76]},
  {col:1,row:2,ticks:b3Ticks,dom:[-0.03,12.26],lmax:3500,t0:-0.125,bars:b3Bars,red:b3Red,track:b3Track,boxes:b3Boxes,title:'JELAWAT (Сен 2012)',tx:6.72,night:[0.42,0.80]},
  {col:1,row:3,ticks:b4Ticks,dom:[-0.12,7.8],lmax:2500,t0:-0.125,bars:b4Bars,red:b4Red,track:b4Track,boxes:b4Boxes,title:'WIPHA (Окт 2013)',tx:4.17,night:[0.42,0.80]},
  {col:1,row:4,ticks:b5Ticks,dom:[0,9.24],lmax:3500,t0:0,bars:b5Bars,red:b5Red,track:b5Track,boxes:b5Boxes,title:'NEOGURI (Июл 2014)',tx:5.08,night:[0.47,0.76]},
  {col:1,row:5,ticks:b6Ticks,dom:[-0.22,9.18],lmax:3500,t0:-0.25,bars:b6Bars,red:b6Red,track:b6Track,boxes:b6Boxes,title:'PHANFONE (Сен-Окт 2014)',tx:4.9,night:[0.42,0.80]},
  {col:1,row:6,ticks:b7Ticks,dom:[0.03,14.53],lmax:3500,t0:0,bars:b7Bars,red:b7Red,track:b7Track,boxes:b7Boxes,title:'GONI (Авг 2015)',tx:7.63,night:[0.46,0.76]},
  {col:1,row:7,ticks:b8Ticks,dom:[-0.25,11.01],lmax:2000,t0:-0.25,bars:b8Bars,red:b8Red,track:b8Track,boxes:b8Boxes,title:'MALAKAS (Сен 2016)',tx:5.88,night:[0.42,0.80]}
];

const hists = [
  {ymax:8, step:1, series:[[h1Blue,'#0000ff'],[h1Green,'#008000'],[h1Red,'#ff0000'],[h1Cyan,'#00bfbf']]},
  {ymax:8, step:1, series:[[h2Blue,'#0000ff'],[h2Green,'#008000'],[h2Red,'#ff0000'],[h2Cyan,'#00bfbf'],[h2Magenta,'#bf00bf']]},
  {ymax:12, step:2, series:[[h3Blue,'#0000ff'],[h3Green,'#008000'],[h3Red,'#ff0000'],[h3Cyan,'#00bfbf']]},
  {ymax:12, step:2, series:[[h4Blue,'#0000ff'],[h4Green,'#008000'],[h4Red,'#ff0000'],[h4Cyan,'#00bfbf']]},
  {ymax:9, step:1, series:[[h5Blue,'#0000ff'],[h5Green,'#008000'],[h5Red,'#ff0000'],[h5Cyan,'#00bfbf']]},
  {ymax:14, step:2, series:[[h6Blue,'#0000ff'],[h6Green,'#008000'],[h6Red,'#ff0000'],[h6Cyan,'#00bfbf']]},
  {ymax:10, step:2, series:[[h7Blue,'#0000ff'],[h7Green,'#008000'],[h7Red,'#ff0000'],[h7Cyan,'#00bfbf']]},
  {ymax:10, step:2, series:[[h8Blue,'#0000ff'],[h8Green,'#008000'],[h8Red,'#ff0000'],[h8Cyan,'#00bfbf'],[h8Magenta,'#bf00bf']]}
];

const boxStyle = {
  blue: ['#0000ff', 'rgba(0,0,255,0.085)'],
  green: ['#006400', 'rgba(0,100,0,0.10)'],
  red: ['#990000', 'rgba(215,40,40,0.12)'],
  teal: ['#009a9a', 'rgba(0,160,160,0.10)'],
  purple: ['#990099', 'rgba(160,0,160,0.10)']
};

const svg = d3.select('#fig');
const defs = svg.append('defs');
const FS = px(34);

function drawPanel(p, i) {
  const left = px(p.col ? bLeft[p.row] : aLeft[p.row]);
  const right = px(p.col ? bRight[p.row] : aRight[p.row]);
  const top = px(rowTop[p.row]), bottom = px(rowBottom[p.row]);
  const x = d3.scaleLinear().domain(p.dom).range([left, right]);
  const yL = d3.scaleLinear().domain([0, p.lmax]).range([bottom, top]);
  const yR = d3.scaleLinear().domain([0, 10]).range([bottom, top]);
  const g = svg.append('g');

  defs.append('clipPath').attr('id', 'clip' + i).append('rect')
    .attr('x', left).attr('y', top).attr('width', right - left).attr('height', bottom - top);
  const body = g.append('g').attr('clip-path', `url(#clip${i})`);

  // night shading
  const days = d3.range(Math.floor(p.dom[0]) - 1, Math.ceil(p.dom[1]) + 1);
  body.append('g').selectAll('rect').data(days).join('rect')
    .attr('x', d => x(d + p.night[0])).attr('width', d => x(d + p.night[1]) - x(d + p.night[0]))
    .attr('y', top).attr('height', bottom - top).attr('fill', '#dcdcdc');

  // grid
  const lTicks = d3.range(0, p.lmax + 1, 500);
  body.append('g').selectAll('line').data(lTicks.slice(1, -1)).join('line')
    .attr('x1', left).attr('x2', right).attr('y1', d => yL(d)).attr('y2', d => yL(d))
    .attr('stroke', '#222').attr('stroke-width', 1).attr('stroke-dasharray', '1.5,4');
  const dayTicks = p.ticks.map((t, k) => k).filter(k => k > p.dom[0] + 0.02 && k < p.dom[1] - 0.02);
  body.append('g').selectAll('line').data(dayTicks).join('line')
    .attr('x1', d => x(d)).attr('x2', d => x(d)).attr('y1', top).attr('y2', bottom)
    .attr('stroke', '#222').attr('stroke-width', 1).attr('stroke-dasharray', '3,5');

  // bars
  const bw = x(1 / 8) - x(0);
  body.append('g').selectAll('rect').data(p.bars).join('rect')
    .attr('x', (v, k) => x(p.t0 + k / 8)).attr('width', bw)
    .attr('y', v => yL(v * 100)).attr('height', v => bottom - yL(v * 100))
    .attr('fill', '#89cbe6').attr('stroke', '#416a7b').attr('stroke-width', 0.8);

  // red step line
  const redPts = p.red.map((v, k) => [p.t0 + k / 8, v]);
  redPts.push([p.t0 + p.red.length / 8, p.red[p.red.length - 1]]);
  body.append('path')
    .attr('d', d3.line().x(d => x(d[0])).y(d => yR(d[1])).curve(d3.curveStepAfter)(redPts))
    .attr('fill', 'none').attr('stroke', '#e2481a').attr('stroke-width', 4.6);

  // tracks
  const tl = d3.line().x(d => x(d[0])).y(d => yR(d[1])).curve(d3.curveMonotoneX);
  if (p.track2) {
    body.append('path').attr('d', tl(p.track2)).attr('fill', 'none')
      .attr('stroke', '#2cf25a').attr('stroke-width', p.fine ? 5.5 : 6.2)
      .attr('stroke-dasharray', p.fine ? '5,3' : '12,9');
  }
  body.append('path').attr('d', tl(p.track)).attr('fill', 'none')
    .attr('stroke', '#0a0af2').attr('stroke-width', 6.2).attr('stroke-dasharray', '14,10');

  // spines
  g.append('rect').attr('x', left).attr('y', top).attr('width', right - left).attr('height', bottom - top)
    .attr('fill', 'none').attr('stroke', '#000').attr('stroke-width', 1.6);
  g.append('line').attr('x1', left).attr('x2', right).attr('y1', top).attr('y2', top)
    .attr('stroke', '#000').attr('stroke-width', 3);
  g.append('line').attr('x1', left).attr('x2', right).attr('y1', bottom).attr('y2', bottom)
    .attr('stroke', '#000').attr('stroke-width', 3);

  // inward ticks
  const tk = px(9);
  g.append('g').selectAll('line').data(lTicks).join('line')
    .attr('x1', left).attr('x2', left + tk).attr('y1', d => yL(d)).attr('y2', d => yL(d)).attr('stroke', '#000');
  const rTicks = d3.range(0, 11, 2);
  g.append('g').selectAll('line').data(rTicks).join('line')
    .attr('x1', right - tk).attr('x2', right).attr('y1', d => yR(d)).attr('y2', d => yR(d)).attr('stroke', '#000');

  // tick labels
  g.append('g').selectAll('text').data(lTicks).join('text')
    .attr('x', left - px(13)).attr('y', d => yL(d)).attr('dy', '0.36em')
    .attr('text-anchor', 'end').attr('font-size', FS).text(d => d);
  g.append('g').selectAll('text').data(rTicks).join('text')
    .attr('x', right + px(13)).attr('y', d => yR(d)).attr('dy', '0.36em')
    .attr('font-size', FS).text(d => d);
  const shown = p.ticks.map((t, k) => [t, k]).filter(d => d[1] >= p.dom[0] - 0.05 && d[1] <= p.dom[1] + 0.05);
  g.append('g').selectAll('text').data(shown).join('text')
    .attr('x', d => x(d[1])).attr('y', bottom + px(37))
    .attr('text-anchor', 'middle').attr('font-size', FS).text(d => d[0]);

  // highlighted intervals
  g.append('g').selectAll('rect').data(p.boxes).join('rect')
    .attr('x', d => x(d[0])).attr('width', d => x(d[1]) - x(d[0]))
    .attr('y', top - px(10)).attr('height', bottom - top + px(15))
    .attr('rx', 2).attr('fill', d => boxStyle[d[2]][1])
    .attr('stroke', d => boxStyle[d[2]][0]).attr('stroke-width', px(7.5));

  // title / legend
  const ty = top + px(63);
  if (p.title) {
    g.append('text').attr('x', x(p.tx)).attr('y', ty).attr('text-anchor', 'middle')
      .style('font-family', "'Liberation Sans', Arial, sans-serif").style('font-weight', 'bold')
      .attr('font-size', px(44)).text(p.title);
  } else {
    let cx = x(p.tx);
    p.legend.forEach(it => {
      if (it.sq) {
        g.append('rect').attr('x', cx).attr('y', ty - px(22)).attr('width', px(17)).attr('height', px(22)).attr('fill', it.sq);
        cx += px(17) + px(19);
      } else {
        const t = g.append('text').attr('x', cx).attr('y', ty)
          .style('font-family', it.serif ? "'Liberation Serif', serif" : "'Liberation Sans', Arial, sans-serif")
          .style('font-weight', 'bold').attr('font-size', px(44)).text(it.t);
        cx += t.node().getComputedTextLength() + px(it.gap || 26);
      }
    });
  }
}

function drawHist(h, row) {
  const top = px(rowTop[row]), bottom = px(rowBottom[row]);
  const left = px(cLeft), right = px(cRight);
  const x = d3.scaleLinear().domain([0, 0.5]).range([left, right]);
  const y = d3.scaleLinear().domain([0, h.ymax]).range([bottom, top]);
  const g = svg.append('g');
  g.append('rect').attr('x', left).attr('y', top).attr('width', right - left).attr('height', bottom - top).attr('fill', '#fff');
  const xt = [0, 0.1, 0.2, 0.3, 0.4, 0.5];
  const yt = d3.range(0, h.ymax + 0.001, h.step);
  g.append('g').selectAll('line').data(yt.slice(1, -1)).join('line')
    .attr('x1', left).attr('x2', right).attr('y1', d => y(d)).attr('y2', d => y(d))
    .attr('stroke', '#222').attr('stroke-dasharray', '1.5,4');
  g.append('g').selectAll('line').data(xt.slice(1, -1)).join('line')
    .attr('x1', d => x(d)).attr('x2', d => x(d)).attr('y1', top).attr('y2', bottom)
    .attr('stroke', '#222').attr('stroke-dasharray', '3,5');
  const line = d3.line().x(d => x(d[0])).y(d => y(d[1])).curve(d3.curveStepAfter);
  h.series.forEach(([vals, col]) => {
    const pts = vals.map((v, k) => [k * 0.0125, v]);
    pts.push([0.5, vals[vals.length - 1]]);
    g.append('path').attr('d', line(pts)).attr('fill', 'none').attr('stroke', col).attr('stroke-width', 3.1);
  });
  g.append('rect').attr('x', left).attr('y', top).attr('width', right - left).attr('height', bottom - top)
    .attr('fill', 'none').attr('stroke', '#000').attr('stroke-width', 2);
  g.append('g').selectAll('text').data(yt).join('text')
    .attr('x', left - px(13)).attr('y', d => y(d)).attr('dy', '0.36em')
    .attr('text-anchor', 'end').attr('font-size', FS).text(d => d);
  g.append('g').selectAll('text').data(xt).join('text')
    .attr('x', d => x(d)).attr('y', bottom + px(37)).attr('text-anchor', 'middle')
    .attr('font-size', FS).text(d => d.toFixed(1));
  g.append('text').attr('transform', `translate(${px(5920)},${(top + bottom) / 2}) rotate(-90)`)
    .attr('text-anchor', 'middle').attr('font-size', FS).text('%');
  g.append('text').attr('x', px(6527)).attr('y', (top + bottom) / 2 + px(24)).attr('text-anchor', 'middle')
    .style('font-family', "'DejaVu Sans', sans-serif").style('font-weight', 'bold')
    .attr('font-size', px(66)).text(row + 1);
}

panels.forEach(drawPanel);
hists.forEach(drawHist);

// row numbers and column letters
svg.append('g').selectAll('text').data(d3.range(8)).join('text')
  .attr('x', px(62)).attr('y', d => (px(rowTop[d]) + px(rowBottom[d])) / 2 + px(14))
  .attr('text-anchor', 'middle').style('font-family', "'DejaVu Sans', sans-serif").style('font-weight', 'bold')
  .attr('font-size', px(66)).text(d => d + 1);
svg.append('g').selectAll('text').data([['А.', 1554], ['Б.', 4463], ['В.', 6276]]).join('text')
  .attr('x', d => px(d[1])).attr('y', px(3067)).attr('text-anchor', 'middle')
  .style('font-family', "'DejaVu Sans', sans-serif").style('font-weight', 'bold')
  .attr('font-size', px(66)).text(d => d[0]);
</script>
</body>
</html>
